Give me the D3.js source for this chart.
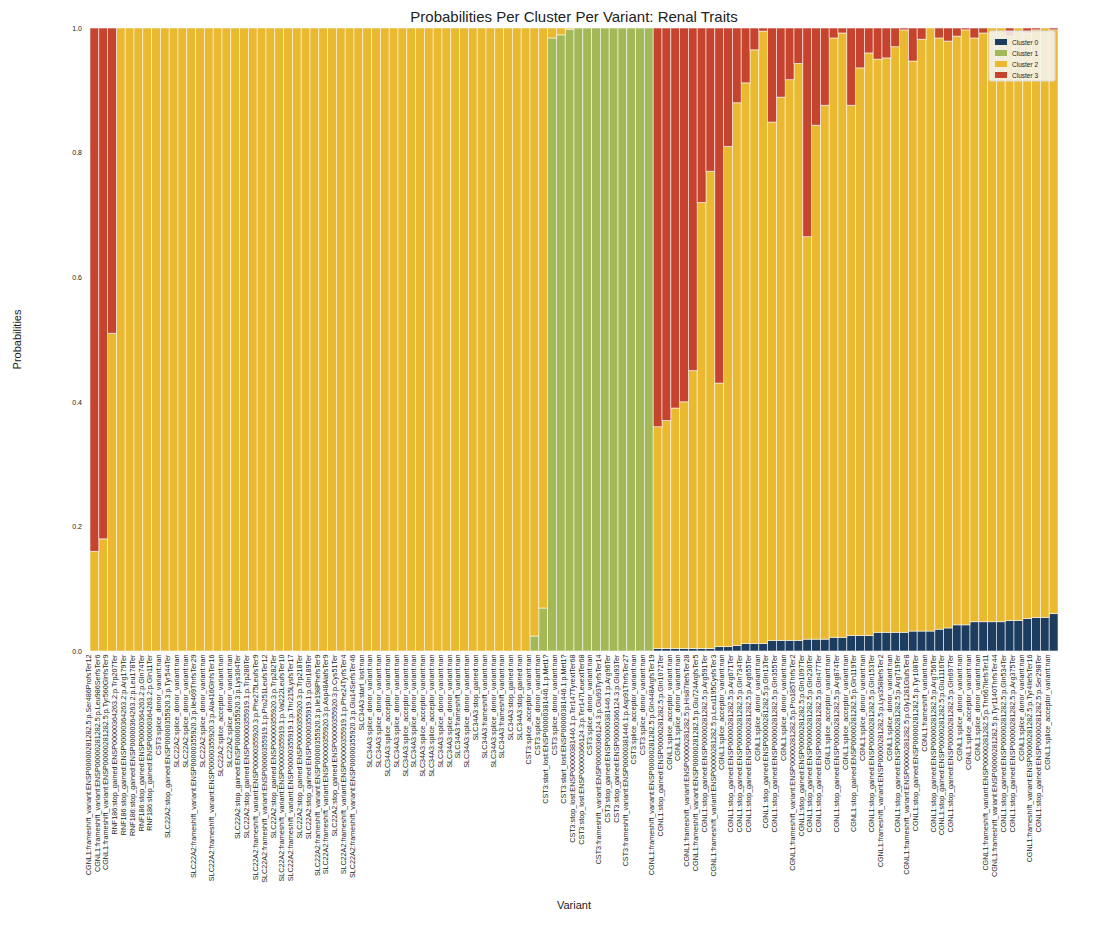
<!DOCTYPE html>
<html>
<head>
<meta charset="utf-8">
<script src="https://cdn.jsdelivr.net/npm/d3@7"></script>
<style>
body { margin: 0; background: #fff; font-family: "Liberation Sans", Arial, sans-serif; }
</style>
</head>
<body>
<svg id="chart" width="1118" height="925"></svg>
<script>
const E = "ENSP00000281282.5", R = "ENSP00000364263.2", S0 = "ENSP00000355920.3", S1 = "ENSP00000355919.1";
const C6 = "ENSP00000366124.3", C1 = "ENSP00000381446.1";
const variants = [
  `CGNL1:frameshift_variant:${E}:p.Ser486ProfsTer12`, `CGNL1:frameshift_variant:${E}:p.Leu986SerfsTer6`,
  `CGNL1:frameshift_variant:${E}:p.Tyr560GlnfsTer9`, `RNF186:stop_gained:${R}:p.Trp207Ter`,
  `RNF186:stop_gained:${R}:p.Arg179Ter`, `RNF186:stop_gained:${R}:p.Leu178Ter`,
  `RNF186:stop_gained:${R}:p.Gln74Ter`, `RNF186:stop_gained:${R}:p.Gln11Ter`,
  "CST3:splice_donor_variant:nan", `SLC22A2:stop_gained:${S0}:p.Tyr544Ter`,
  "SLC22A2:splice_donor_variant:nan", "SLC22A2:splice_donor_variant:nan",
  `SLC22A2:frameshift_variant:${S0}:p.Ile469ThrfsTer29`, "SLC22A2:splice_donor_variant:nan",
  `SLC22A2:frameshift_variant:${S0}:p.Ala416GlnfsTer16`, "SLC22A2:splice_acceptor_variant:nan",
  "SLC22A2:splice_donor_variant:nan", `SLC22A2:stop_gained:${S0}:p.Lys304Ter`,
  `SLC22A2:stop_gained:${S1}:p.Trp280Ter`, `SLC22A2:frameshift_variant:${S0}:p.Phe275LeufsTer9`,
  `SLC22A2:frameshift_variant:${S1}:p.Pro251LeufsTer12`, `SLC22A2:stop_gained:${S0}:p.Trp282Ter`,
  `SLC22A2:frameshift_variant:${S1}:p.Val222LeufsTer10`, `SLC22A2:frameshift_variant:${S1}:p.Thr215LysfsTer17`,
  `SLC22A2:stop_gained:${S0}:p.Trp218Ter`, `SLC22A2:stop_gained:${S1}:p.Gln189Ter`,
  `SLC22A2:frameshift_variant:${S0}:p.Ile198PhefsTer9`, `SLC22A2:frameshift_variant:${S0}:p.Asp48AlafsTer9`,
  `SLC22A2:stop_gained:${S0}:p.Cys51Ter`, `SLC22A2:frameshift_variant:${S1}:p.Phe24TyrfsTer4`,
  `SLC22A2:frameshift_variant:${S0}:p.Glu14SerfsTer46`, "SLC34A3:start_lost:nan",
  "SLC34A3:splice_donor_variant:nan", "SLC34A3:splice_donor_variant:nan",
  "SLC34A3:splice_acceptor_variant:nan", "SLC34A3:splice_donor_variant:nan",
  "SLC34A3:splice_acceptor_variant:nan", "SLC34A3:splice_donor_variant:nan",
  "SLC34A3:splice_acceptor_variant:nan", "SLC34A3:splice_acceptor_variant:nan",
  "SLC34A3:splice_donor_variant:nan", "SLC34A3:splice_donor_variant:nan",
  "SLC34A3:frameshift_variant:nan", "SLC34A3:splice_donor_variant:nan",
  "SLC34A3:stop_gained:nan", "SLC34A3:frameshift_variant:nan",
  "SLC34A3:splice_donor_variant:nan", "SLC34A3:frameshift_variant:nan",
  "SLC34A3:stop_gained:nan", "SLC34A3:stop_gained:nan",
  "CST3:splice_acceptor_variant:nan", "CST3:splice_donor_variant:nan",
  `CST3:start_lost:${C1}:p.Met1?`, "CST3:splice_donor_variant:nan",
  `CST3:start_lost:${C1}:p.Met1?`, `CST3:stop_lost:${C1}:p.Ter147TyrextTer68`,
  `CST3:stop_lost:${C6}:p.Ter147LeuextTer68`, "CST3:splice_donor_variant:nan",
  `CST3:frameshift_variant:${C6}:p.Glu93TyrfsTer14`, `CST3:stop_gained:${C1}:p.Arg96Ter`,
  `CST3:stop_gained:${C6}:p.Glu93Ter`, `CST3:frameshift_variant:${C1}:p.Asp91ThrfsTer27`,
  "CST3:splice_acceptor_variant:nan", "CST3:splice_donor_variant:nan",
  `CGNL1:frameshift_variant:${E}:p.Gln448ArgfsTer19`, `CGNL1:stop_gained:${E}:p.Gln1072Ter`,
  "CGNL1:splice_acceptor_variant:nan", "CGNL1:splice_donor_variant:nan",
  `CGNL1:frameshift_variant:${E}:p.His87IlefsTer28`, `CGNL1:frameshift_variant:${E}:p.Glu724ArgfsTer5`,
  `CGNL1:stop_gained:${E}:p.Arg591Ter`, `CGNL1:frameshift_variant:${E}:p.Leu1195CysfsTer3`,
  "CGNL1:splice_acceptor_variant:nan", `CGNL1:stop_gained:${E}:p.Arg671Ter`,
  `CGNL1:stop_gained:${E}:p.Gln734Ter`, `CGNL1:stop_gained:${E}:p.Arg655Ter`,
  "CGNL1:splice_donor_variant:nan", `CGNL1:stop_gained:${E}:p.Gln13Ter`,
  `CGNL1:stop_gained:${E}:p.Gln355Ter`, "CGNL1:splice_donor_variant:nan",
  `CGNL1:frameshift_variant:${E}:p.Pro185ThrfsTer2`, `CGNL1:stop_gained:${E}:p.Gln1097Ter`,
  `CGNL1:stop_gained:${E}:p.Gln230Ter`, `CGNL1:stop_gained:${E}:p.Gln477Ter`,
  "CGNL1:splice_acceptor_variant:nan", `CGNL1:stop_gained:${E}:p.Arg874Ter`,
  "CGNL1:splice_acceptor_variant:nan", `CGNL1:stop_gained:${E}:p.Gln119Ter`,
  "CGNL1:splice_donor_variant:nan", `CGNL1:stop_gained:${E}:p.Gln153Ter`,
  `CGNL1:frameshift_variant:${E}:p.Lys358IlefsTer2`, "CGNL1:splice_donor_variant:nan",
  `CGNL1:stop_gained:${E}:p.Arg719Ter`, `CGNL1:frameshift_variant:${E}:p.Gly1281GlufsTer8`,
  `CGNL1:stop_gained:${E}:p.Tyr108Ter`, "CGNL1:frameshift_variant:nan",
  `CGNL1:stop_gained:${E}:p.Arg756Ter`, `CGNL1:stop_gained:${E}:p.Glu1116Ter`,
  `CGNL1:stop_gained:${E}:p.Gln697Ter`, "CGNL1:splice_donor_variant:nan",
  "CGNL1:splice_acceptor_variant:nan", "CGNL1:splice_donor_variant:nan",
  `CGNL1:frameshift_variant:${E}:p.Thr667IlefsTer11`, `CGNL1:frameshift_variant:${E}:p.Tyr1140ThrfsTer44`,
  `CGNL1:stop_gained:${E}:p.Gln534Ter`, `CGNL1:stop_gained:${E}:p.Arg375Ter`,
  "CGNL1:splice_donor_variant:nan", `CGNL1:frameshift_variant:${E}:p.Tyr4IlefsTer16`,
  `CGNL1:stop_gained:${E}:p.Ser298Ter`, "CGNL1:splice_acceptor_variant:nan"
];

// per-variant probabilities (110 values each)
const cluster0 = [
  0,0,0, 0,0,0,0,0,0,0,0,0,0,0,0,0,0,0,0,0,0,0,0,0,0,0,0,0,0,0,0,0,0,0,0,0,0,0,0,0,0,0,0,0,0,0,0,0,0,0,
  0,0,0,0,0,0,0,0,0,0,0,0,0,0,
  0.004,0.004,0.004,0.004,0.004,0.004,0.004,0.007,0.007,0.009,0.012,0.012,0.012,0.017,0.017,0.017,0.017,
  0.019,0.019,0.019,0.022,0.022,0.025,0.025,0.025,0.030,0.030,0.030,0.030,0.032,0.032,0.032,0.035,0.037,
  0.042,0.042,0.047,0.047,0.047,0.047,0.049,0.049,0.052,0.054,0.054,0.060
];
const cluster1 = [
  0,0,0, 0,0,0,0,0,0,0,0,0,0,0,0,0,0,0,0,0,0,0,0,0,0,0,0,0,0,0,0,0,0,0,0,0,0,0,0,0,0,0,0,0,0,0,0,0,0,0,
  0.024,0.069,0.984,0.989,0.998,1,1,1,1,1,1,1,1,1,
  0,0,0,0,0,0,0,0,0,0,0,0,0,0,0,0,0,0,0,0,0,0,0,0,0,0,0,0,0,0,0,0,0,0,0,0,0,0,0,0,0,0,0,0,0,0
];
const cluster2 = [
  0.16,0.18,0.51, 1,1,1,1,1,1,1,1,1,1,1,1,1,1,1,1,1,1,1,1,1,1,1,1,1,1,1,1,1,1,1,1,1,1,1,1,1,1,1,1,1,1,1,1,1,1,1,
  0.976,0.931,0.016,0.011,0.002,0,0,0,0,0,0,0,0,0,
  0.356,0.366,0.386,0.396,0.446,0.716,0.766,0.423,0.803,0.871,0.900,0.953,0.983,0.832,0.872,0.900,0.926,
  0.646,0.825,0.857,0.962,0.970,0.851,0.911,0.935,0.920,0.922,0.940,0.967,0.915,0.950,0.968,0.949,0.942,
  0.945,0.955,0.937,0.945,0.953,0.953,0.938,0.951,0.940,0.943,0.946,0.937
];
const cluster3 = [
  0.84,0.82,0.49, 0,0,0,0,0,0,0,0,0,0,0,0,0,0,0,0,0,0,0,0,0,0,0,0,0,0,0,0,0,0,0,0,0,0,0,0,0,0,0,0,0,0,0,0,0,0,0,
  0,0,0,0,0,0,0,0,0,0,0,0,0,0,
  0.64,0.63,0.61,0.60,0.55,0.28,0.23,0.57,0.19,0.12,0.088,0.035,0.005,0.151,0.111,0.083,0.057,
  0.335,0.156,0.124,0.016,0.008,0.124,0.064,0.04,0.05,0.048,0.03,0.003,0.053,0.018,0,0.016,0.021,
  0.013,0.003,0.016,0.008,0,0,0.013,0,0.008,0.003,0,0.003
];
const clusterNames = ["Cluster 0", "Cluster 1", "Cluster 2", "Cluster 3"];
const colors = ["#1c3d5f", "#a3b957", "#ebb92f", "#c6432e"];
const yTicks = [0, 0.2, 0.4, 0.6, 0.8, 1.0];

const margin = {top: 28, right: 60, bottom: 274, left: 90};
const W = 1118, H = 925;
const iw = W - margin.left - margin.right, ih = H - margin.top - margin.bottom;
const svg = d3.select("#chart");
const g = svg.append("g").attr("transform", `translate(${margin.left},${margin.top})`);

const rows = variants.map((v, i) => ({i, c0: cluster0[i], c1: cluster1[i], c2: cluster2[i], c3: cluster3[i]}));
const stack = d3.stack().keys(["c0", "c1", "c2", "c3"])(rows);

const x = d3.scaleBand().domain(d3.range(variants.length)).range([0, iw]).padding(0);
const y = d3.scaleLinear().domain([0, 1]).range([ih, 0]);

g.append("rect").attr("width", iw).attr("height", ih).attr("fill", "#eaeaf2");

g.selectAll("g.layer").data(stack).join("g")
  .attr("class", "layer")
  .attr("fill", (d, k) => colors[k])
  .selectAll("rect").data(d => d).join("rect")
  .attr("x", d => x(d.data.i))
  .attr("width", x.bandwidth())
  .attr("y", d => y(d[1]))
  .attr("height", d => y(d[0]) - y(d[1]))
  .attr("stroke", "#ffffff")
  .attr("stroke-opacity", 0.7)
  .attr("stroke-width", 0.8);

const yAxis = g.append("g").call(d3.axisLeft(y).tickValues(yTicks).tickFormat(d3.format(".1f")).tickSize(0).tickPadding(8));
yAxis.select(".domain").remove();
yAxis.selectAll("text").attr("font-size", 7).attr("fill", "#222");

const xAxis = g.append("g").attr("transform", `translate(0,${ih})`)
  .call(d3.axisBottom(x).tickFormat(i => variants[i]).tickSize(0).tickPadding(4));
xAxis.select(".domain").remove();
xAxis.selectAll("text")
  .attr("font-size", 7.2).attr("fill", "#222")
  .attr("text-anchor", "end")
  .attr("transform", "rotate(-90)")
  .attr("dx", "-0.5em").attr("dy", "-0.5em").attr("y", 0).attr("x", 0);

svg.append("text").attr("x", margin.left + iw / 2).attr("y", 22).attr("text-anchor", "middle")
  .attr("font-size", 15).attr("fill", "#222").text("Probabilities Per Cluster Per Variant: Renal Traits");
svg.append("text").attr("transform", `translate(21,${margin.top + ih / 2}) rotate(-90)`).attr("text-anchor", "middle")
  .attr("font-size", 11).attr("fill", "#222").text("Probabilities");
svg.append("text").attr("x", margin.left + iw / 2).attr("y", 909).attr("text-anchor", "middle")
  .attr("font-size", 11).attr("fill", "#222").text("Variant");

const leg = g.append("g").attr("transform", `translate(${iw - 69},3)`);
leg.append("rect").attr("width", 66).attr("height", 50).attr("rx", 2)
  .attr("fill", "#f4f4f4").attr("fill-opacity", 0.85).attr("stroke", "#ddd");
clusterNames.forEach((n, k) => {
  const r = leg.append("g").attr("transform", `translate(6,${8 + k * 11})`);
  r.append("rect").attr("width", 12).attr("height", 6).attr("fill", colors[k]);
  r.append("text").attr("x", 17).attr("y", 5.5).attr("font-size", 6.5).attr("fill", "#222").text(n);
});
</script>
</body>
</html>
